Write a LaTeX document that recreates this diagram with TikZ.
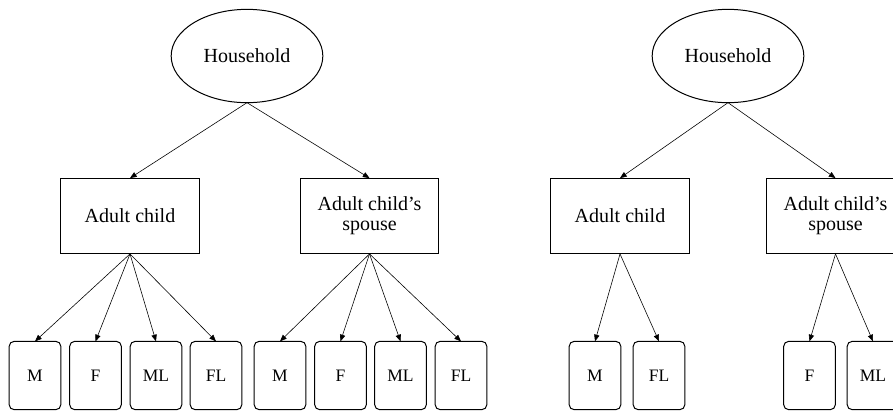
\documentclass[tikz,border=0pt]{standalone}
\usepackage{fontspec}
\setmainfont{Liberation Serif}
\usepackage{tikz}
\usetikzlibrary{shapes.geometric,arrows.meta}

\begin{document}
\begin{tikzpicture}[x=0.6pt, y=-0.6pt,
  every node/.style={outer sep=0pt, inner sep=0pt},
  hhold/.style={ellipse, draw, line width=0.6pt, minimum width=91pt, minimum height=56pt, font=\rmfamily\fontsize{12}{12}\selectfont},
  member/.style={rectangle, draw, line width=0.6pt, minimum width=83pt, minimum height=45.5pt, align=center, font=\rmfamily\fontsize{12}{12}\selectfont},
  leaf/.style={rectangle, rounded corners=3pt, draw, line width=0.6pt, minimum width=31pt, minimum height=41pt, font=\rmfamily\fontsize{10.5}{12}\selectfont},
  link/.style={-{Triangle[length=4pt,width=3.2pt]}, line width=0.35pt}]
\clip (0,0) rectangle (893,413);

\node[hhold] (h1) at (247,56) {Household};
\node[member] (ac1) at (130,216) {Adult child};
\node[member] (sp1) at (369.5,216) {Adult child's\\spouse};
\node[leaf] (m1) at (35,375.5) {M};
\node[leaf] (f1) at (95.5,375.5) {F};
\node[leaf] (ml1) at (156,375.5) {ML};
\node[leaf] (fl1) at (216,375.5) {FL};
\node[leaf] (m2) at (280,375.5) {M};
\node[leaf] (f2) at (340.5,375.5) {F};
\node[leaf] (ml2) at (400.5,375.5) {ML};
\node[leaf] (fl2) at (461,375.5) {FL};

\node[hhold] (h2) at (728,56) {Household};
\node[member] (ac2) at (620,216) {Adult child};
\node[member] (sp2) at (835.5,216) {Adult child's\\spouse};
\node[leaf] (m3) at (595,375.5) {M};
\node[leaf] (fl3) at (659,375.5) {FL};
\node[leaf] (f3) at (809.5,375.5) {F};
\node[leaf] (ml3) at (873,375.5) {ML};

\draw[link] (h1.south) -- (ac1.north);
\draw[link] (h1.south) -- (sp1.north);
\foreach \n in {m1,f1,ml1,fl1}
  \draw[link] (ac1.south) -- (\n.north);
\foreach \n in {m2,f2,ml2,fl2}
  \draw[link] (sp1.south) -- (\n.north);

\draw[link] (h2.south) -- (ac2.north);
\draw[link] (h2.south) -- (sp2.north);
\draw[link] (ac2.south) -- (m3.north);
\draw[link] (ac2.south) -- (fl3.north);
\draw[link] (sp2.south) -- (f3.north);
\draw[link] (sp2.south) -- (ml3.north);
\end{tikzpicture}
\end{document}
